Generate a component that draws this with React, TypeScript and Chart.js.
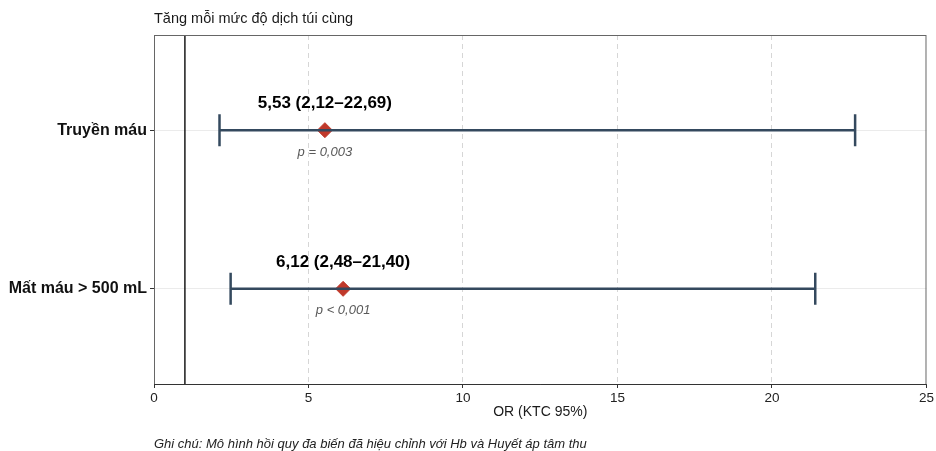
import React, { useEffect, useRef } from "react";
import { Chart, registerables } from "chart.js";

Chart.register(...registerables);

const categories = ["Truyền máu", "Mất máu > 500 mL"];
const orValues = [5.53, 6.12];
const ciLow = [2.12, 2.48];
const ciHigh = [22.69, 21.4];
const pLabels = ["p = 0,003", "p < 0,001"];
const xTicks = [0, 5, 10, 15, 20, 25];
const refValue = 1;
const titleText = "Tăng mỗi mức độ dịch túi cùng";
const xTitle = "OR (KTC 95%)";
const captionText = "Ghi chú: Mô hình hồi quy đa biến đã hiệu chỉnh với Hb và Huyết áp tâm thu";

const FONT = "'Liberation Sans', Arial, Helvetica, sans-serif";
const n = categories.length;
const yOf = (i: number) => n - i;
const fmt = (v: number) => v.toFixed(2).replace(".", ",");

export default function App() {
  const ref = useRef<HTMLCanvasElement | null>(null);
  useEffect(() => {
    document.body.style.margin = "0";
    const canvas = ref.current;
    if (!canvas) return;

    const datasets: any[] = [
      {
        data: [
          { x: refValue, y: 0.4 },
          { x: refValue, y: n + 0.6 },
        ],
        showLine: true,
        borderColor: "#1a1a1a",
        borderWidth: 1.5,
        pointRadius: 0,
      },
    ];
    categories.forEach((_, i) => {
      datasets.push({
        data: [
          { x: ciLow[i], y: yOf(i) },
          { x: ciHigh[i], y: yOf(i) },
        ],
        showLine: true,
        borderColor: "#34495e",
        borderWidth: 2.5,
        pointStyle: "line",
        rotation: 90,
        pointRadius: 16,
        pointBorderWidth: 2.5,
        pointBorderColor: "#34495e",
      });
    });
    datasets.push({
      data: orValues.map((v, i) => ({ x: v, y: yOf(i) })),
      pointStyle: "rectRot",
      pointRadius: 7.5,
      backgroundColor: "#c0392b",
      borderColor: "#c0392b",
      borderWidth: 1,
    });

    const deco = {
      id: "deco",
      afterDatasetsDraw(chart: any) {
        const { ctx, chartArea, scales } = chart;
        const xs = scales.x;
        const ys = scales.y;
        ctx.save();
        ctx.strokeStyle = "#666";
        ctx.lineWidth = 1;
        ctx.strokeRect(chartArea.left + 0.5, chartArea.top + 0.5, chartArea.right - chartArea.left - 1, chartArea.bottom - chartArea.top);
        ctx.strokeStyle = "#333";
        ctx.beginPath();
        ctx.moveTo(chartArea.left, chartArea.bottom + 0.5);
        ctx.lineTo(chartArea.right, chartArea.bottom + 0.5);
        ctx.stroke();
        ctx.textAlign = "center";
        ctx.textBaseline = "middle";
        categories.forEach((_, i) => {
          const px = xs.getPixelForValue(orValues[i]);
          const py = ys.getPixelForValue(yOf(i));
          ctx.fillStyle = "#000";
          ctx.font = `bold 17px ${FONT}`;
          ctx.fillText(`${fmt(orValues[i])} (${fmt(ciLow[i])}–${fmt(ciHigh[i])})`, px, py - 27);
          ctx.fillStyle = "#595959";
          ctx.font = `italic 13px ${FONT}`;
          ctx.fillText(pLabels[i], px, py + 22);
        });
        ctx.textAlign = "left";
        ctx.fillStyle = "#1a1a1a";
        ctx.font = `14.5px ${FONT}`;
        ctx.fillText(titleText, chartArea.left, 19);
        ctx.textAlign = "center";
        ctx.font = `14px ${FONT}`;
        ctx.fillText(xTitle, (chartArea.left + chartArea.right) / 2, 412);
        ctx.textAlign = "left";
        ctx.fillStyle = "#222";
        ctx.font = `italic 13px ${FONT}`;
        ctx.fillText(captionText, chartArea.left, 444);
        ctx.restore();
      },
    };

    const chart = new Chart(canvas, {
      type: "scatter",
      data: { datasets },
      options: {
        animation: false,
        responsive: false,
        layout: { autoPadding: false, padding: { top: 35, right: 9, left: 0, bottom: 0 } },
        plugins: { legend: { display: false }, tooltip: { enabled: false }, title: { display: false } },
        scales: {
          x: {
            type: "linear",
            min: 0,
            max: 25,
            afterBuildTicks: (s: any) => {
              s.ticks = xTicks.map((v) => ({ value: v }));
            },
            afterFit: (s: any) => {
              s.height = 67;
            },
            ticks: { color: "#222", font: { size: 13.5, family: FONT }, padding: 2, maxRotation: 0 },
            grid: {
              color: (c: any) => (c.tick && (c.tick.value === 0 || c.tick.value === 25) ? "transparent" : "#d6d6d6"),
              tickColor: "#333",
              tickLength: 4,
              tickBorderDash: [],
              lineWidth: 1,
            } as any,
            border: { display: false, dash: [5, 4] } as any,
          },
          y: {
            type: "linear",
            min: 0.4,
            max: n + 0.6,
            afterBuildTicks: (s: any) => {
              s.ticks = categories.map((_, i) => ({ value: yOf(i) }));
            },
            afterFit: (s: any) => {
              s.width = 154;
            },
            ticks: {
              color: "#111",
              font: { size: 16, weight: "bold", family: FONT },
              padding: 3,
              callback: (v: any) => categories[n - Number(v)] ?? "",
            },
            grid: { color: "#ebebeb", tickColor: "#333", tickLength: 4, lineWidth: 1 },
            border: { display: false },
          },
        },
      },
      plugins: [deco],
    });
    return () => chart.destroy();
  }, []);

  return (
    <div style={{ width: 936, height: 451 }}>
      <canvas ref={ref} width={936} height={451} />
    </div>
  );
}
